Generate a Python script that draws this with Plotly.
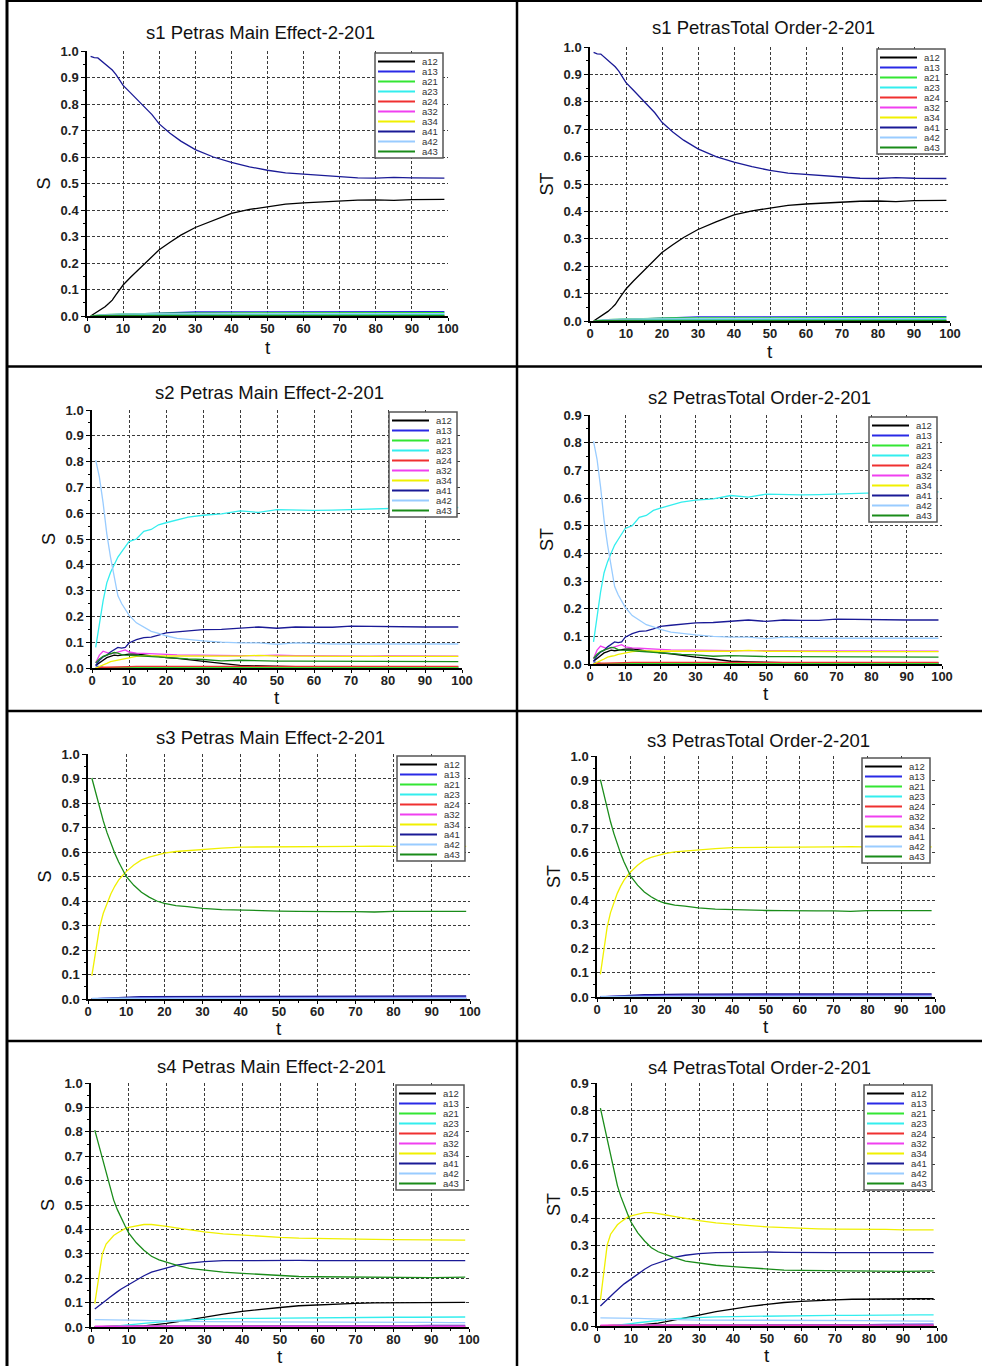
import plotly.graph_objects as go

W, H = 982, 1366

t = [1, 2, 3, 4, 5, 6, 7, 8, 9, 10, 12, 14, 16, 18, 20, 23, 26, 30, 35, 40,
     45, 50, 55, 60, 65, 70, 75, 80, 85, 90, 95, 99]

names = ["a12", "a13", "a21", "a23", "a24", "a32", "a34", "a41", "a42", "a43"]
colors = ["#000000", "#2a2ae6", "#33e633", "#33eeee", "#f03030", "#f040f0",
          "#f0f000", "#1a1a96", "#99ccff", "#1a8c1a"]

# ---------------- s1 ----------------
s1_a12 = [0.0, 0.008, 0.016, 0.025, 0.035, 0.047, 0.06, 0.08, 0.1, 0.117, 0.145, 0.172, 0.198, 0.224, 0.25, 0.278,
          0.305, 0.334, 0.362, 0.387, 0.402, 0.412, 0.422, 0.427, 0.431, 0.434, 0.437, 0.438, 0.436, 0.439, 0.439, 0.44]
s1_a13 = [0.0, 0.001, 0.002, 0.003, 0.003, 0.004, 0.005, 0.005, 0.006, 0.006, 0.007, 0.008, 0.009, 0.01, 0.01, 0.011,
          0.012, 0.015, 0.015, 0.015, 0.015, 0.015, 0.014, 0.014, 0.014, 0.015, 0.014, 0.014, 0.016, 0.016, 0.015, 0.016]
s1_a21 = [0.0, 0.002, 0.003, 0.004, 0.005, 0.006, 0.006, 0.007, 0.007, 0.008, 0.008, 0.009, 0.009, 0.01, 0.01, 0.011,
          0.011, 0.011, 0.012, 0.012, 0.012, 0.012, 0.012, 0.012, 0.012, 0.012, 0.012, 0.012, 0.012, 0.013, 0.013, 0.013]
s1_a23 = [0.0, 0.001, 0.002, 0.002, 0.003, 0.003, 0.003, 0.004, 0.004, 0.004, 0.004, 0.005, 0.005, 0.005, 0.005, 0.005,
          0.005, 0.006, 0.006, 0.006, 0.006, 0.006, 0.006, 0.006, 0.006, 0.006, 0.006, 0.006, 0.006, 0.006, 0.006, 0.006]
s1_a24 = [0.0, 0.001, 0.001, 0.001, 0.001, 0.001, 0.001, 0.001, 0.001, 0.001, 0.001, 0.001, 0.001, 0.001, 0.001, 0.001,
          0.001, 0.001, 0.001, 0.001, 0.001, 0.001, 0.001, 0.001, 0.001, 0.001, 0.001, 0.001, 0.001, 0.001, 0.001, 0.001]
s1_a32 = [0.0, 0.0, 0.001, 0.001, 0.001, 0.001, 0.001, 0.001, 0.001, 0.001, 0.001, 0.001, 0.001, 0.001, 0.001, 0.001,
          0.001, 0.001, 0.001, 0.001, 0.001, 0.001, 0.001, 0.001, 0.001, 0.001, 0.001, 0.001, 0.001, 0.001, 0.001, 0.001]
s1_a34 = [0.0, 0.0, 0.0, 0.0, 0.0, 0.0, 0.0, 0.0, 0.0, 0.0, 0.0, 0.0, 0.0, 0.0, 0.0, 0.0,
          0.0, 0.0, 0.0, 0.0, 0.0, 0.0, 0.0, 0.0, 0.0, 0.0, 0.0, 0.0, 0.0, 0.0, 0.0, 0.0]
s1_a41 = [0.98, 0.975, 0.974, 0.963, 0.952, 0.94, 0.928, 0.912, 0.89, 0.87, 0.843, 0.815, 0.787, 0.76, 0.725, 0.69,
          0.66, 0.628, 0.6, 0.58, 0.563, 0.55, 0.54, 0.535, 0.53, 0.525, 0.521, 0.52, 0.523, 0.521, 0.52, 0.52]
s1_a42 = [0.0, 0.002, 0.003, 0.004, 0.005, 0.006, 0.006, 0.007, 0.007, 0.007, 0.008, 0.008, 0.008, 0.008, 0.008, 0.009,
          0.009, 0.009, 0.009, 0.009, 0.009, 0.009, 0.009, 0.009, 0.009, 0.009, 0.009, 0.009, 0.009, 0.009, 0.009, 0.009]
s1_a43 = [0.0, 0.001, 0.001, 0.001, 0.002, 0.002, 0.002, 0.002, 0.002, 0.002, 0.002, 0.002, 0.002, 0.002, 0.002, 0.002,
          0.002, 0.002, 0.002, 0.002, 0.002, 0.002, 0.002, 0.002, 0.002, 0.002, 0.002, 0.002, 0.002, 0.002, 0.002, 0.002]

# ---------------- s2 ----------------
s2_a12 = [0.01, 0.02, 0.033, 0.04, 0.045, 0.05, 0.048, 0.05, 0.052, 0.054, 0.055, 0.05, 0.047, 0.045, 0.04, 0.037,
          0.033, 0.025, 0.018, 0.01, 0.008, 0.006, 0.005, 0.005, 0.005, 0.004, 0.004, 0.004, 0.004, 0.004, 0.004, 0.004]
s2_a13 = [0.008, 0.004, 0.002, 0.001, 0.001, 0.001, 0.001, 0.001, 0.001, 0.001, 0.001, 0.001, 0.001, 0.001, 0.001, 0.001,
          0.001, 0.001, 0.001, 0.001, 0.001, 0.001, 0.001, 0.001, 0.001, 0.001, 0.001, 0.001, 0.001, 0.001, 0.001, 0.001]
s2_a21 = [0.0, 0.001, 0.001, 0.001, 0.001, 0.001, 0.001, 0.001, 0.001, 0.001, 0.001, 0.001, 0.001, 0.001, 0.001, 0.001,
          0.001, 0.001, 0.001, 0.001, 0.001, 0.001, 0.001, 0.001, 0.001, 0.001, 0.001, 0.001, 0.001, 0.001, 0.001, 0.001]
s2_a23 = [0.08, 0.18, 0.26, 0.33, 0.37, 0.4, 0.43, 0.45, 0.47, 0.49, 0.5, 0.53, 0.537, 0.555, 0.563, 0.575,
          0.585, 0.592, 0.597, 0.609, 0.603, 0.614, 0.612, 0.611, 0.612, 0.614, 0.616, 0.619, 0.621, 0.622, 0.62, 0.622]
s2_a24 = [0.0, 0.002, 0.003, 0.003, 0.003, 0.004, 0.004, 0.005, 0.005, 0.005, 0.006, 0.006, 0.006, 0.005, 0.006, 0.006,
          0.005, 0.006, 0.006, 0.006, 0.006, 0.006, 0.006, 0.006, 0.006, 0.006, 0.005, 0.006, 0.006, 0.006, 0.006, 0.006]
s2_a32 = [0.02, 0.05, 0.065, 0.06, 0.055, 0.058, 0.062, 0.068, 0.07, 0.062, 0.058, 0.057, 0.055, 0.054, 0.053, 0.051,
          0.05, 0.05, 0.049, 0.048, 0.048, 0.05, 0.048, 0.047, 0.047, 0.046, 0.046, 0.047, 0.046, 0.046, 0.046, 0.046]
s2_a34 = [0.0, 0.005, 0.012, 0.018, 0.025, 0.028, 0.03, 0.035, 0.038, 0.04, 0.045, 0.047, 0.047, 0.046, 0.046, 0.046,
          0.047, 0.047, 0.047, 0.046, 0.049, 0.046, 0.046, 0.045, 0.045, 0.045, 0.045, 0.045, 0.045, 0.045, 0.045, 0.045]
s2_a41 = [0.01, 0.03, 0.043, 0.05, 0.062, 0.071, 0.08, 0.077, 0.08, 0.097, 0.11, 0.118, 0.12, 0.127, 0.136, 0.14,
          0.145, 0.149, 0.15, 0.155, 0.159, 0.154, 0.159, 0.158, 0.158, 0.162, 0.161, 0.159, 0.159, 0.159, 0.159, 0.159]
s2_a42 = [0.806, 0.74, 0.64, 0.52, 0.43, 0.353, 0.28, 0.25, 0.225, 0.205, 0.175, 0.158, 0.142, 0.134, 0.125, 0.115,
          0.11, 0.105, 0.1, 0.097, 0.097, 0.092, 0.097, 0.094, 0.093, 0.093, 0.093, 0.093, 0.093, 0.093, 0.093, 0.093]
s2_a43 = [0.02, 0.035, 0.045, 0.05, 0.055, 0.06, 0.058, 0.052, 0.05, 0.05, 0.048, 0.046, 0.044, 0.042, 0.04, 0.037,
          0.035, 0.033, 0.028, 0.03, 0.028, 0.027, 0.027, 0.027, 0.026, 0.026, 0.026, 0.026, 0.026, 0.025, 0.025, 0.025]

# ---------------- s3 ----------------
s3_a12 = [0.0, 0.0, 0.001, 0.001, 0.001, 0.001, 0.001, 0.001, 0.001, 0.001, 0.001, 0.001, 0.001, 0.001, 0.001, 0.001,
          0.001, 0.001, 0.001, 0.001, 0.001, 0.001, 0.001, 0.001, 0.001, 0.001, 0.001, 0.001, 0.001, 0.001, 0.001, 0.001]
s3_a13 = [0.0, 0.001, 0.001, 0.002, 0.003, 0.003, 0.004, 0.004, 0.005, 0.005, 0.006, 0.006, 0.007, 0.007, 0.008, 0.008,
          0.008, 0.008, 0.009, 0.009, 0.009, 0.009, 0.009, 0.009, 0.009, 0.009, 0.009, 0.009, 0.009, 0.009, 0.009, 0.009]
s3_a21 = [0.0, 0.0, 0.0, 0.001, 0.001, 0.001, 0.001, 0.001, 0.001, 0.001, 0.001, 0.001, 0.001, 0.001, 0.001, 0.001,
          0.001, 0.001, 0.001, 0.001, 0.001, 0.001, 0.001, 0.001, 0.001, 0.001, 0.001, 0.001, 0.001, 0.001, 0.001, 0.001]
s3_a23 = [0.0, 0.0, 0.0, 0.0, 0.001, 0.001, 0.001, 0.001, 0.001, 0.001, 0.001, 0.001, 0.001, 0.001, 0.001, 0.001,
          0.001, 0.001, 0.001, 0.001, 0.001, 0.001, 0.001, 0.001, 0.001, 0.001, 0.001, 0.001, 0.001, 0.001, 0.001, 0.001]
s3_a24 = [0.0, 0.0, 0.0, 0.0, 0.0, 0.0, 0.0, 0.0, 0.0, 0.0, 0.0, 0.0, 0.0, 0.0, 0.0, 0.0,
          0.0, 0.0, 0.0, 0.0, 0.0, 0.0, 0.0, 0.0, 0.0, 0.0, 0.0, 0.0, 0.0, 0.0, 0.0, 0.0]
s3_a32 = [0.001, 0.002, 0.002, 0.002, 0.002, 0.002, 0.002, 0.002, 0.002, 0.002, 0.002, 0.002, 0.002, 0.002, 0.002, 0.002,
          0.002, 0.002, 0.002, 0.002, 0.002, 0.002, 0.002, 0.002, 0.002, 0.002, 0.002, 0.002, 0.002, 0.002, 0.002, 0.002]
s3_a34 = [0.094, 0.2, 0.29, 0.35, 0.39, 0.43, 0.46, 0.485, 0.503, 0.52, 0.547, 0.568, 0.579, 0.588, 0.595, 0.602,
          0.606, 0.612, 0.616, 0.62, 0.62, 0.621, 0.623, 0.623, 0.621, 0.623, 0.624, 0.623, 0.623, 0.621, 0.62, 0.623]
s3_a41 = [0.0, 0.001, 0.002, 0.003, 0.004, 0.005, 0.006, 0.007, 0.008, 0.008, 0.009, 0.01, 0.01, 0.011, 0.011, 0.012,
          0.012, 0.012, 0.013, 0.013, 0.013, 0.013, 0.013, 0.013, 0.013, 0.013, 0.013, 0.013, 0.013, 0.013, 0.013, 0.013]
s3_a42 = [0.002, 0.003, 0.003, 0.003, 0.003, 0.003, 0.003, 0.003, 0.003, 0.003, 0.003, 0.003, 0.003, 0.003, 0.003, 0.003,
          0.003, 0.003, 0.003, 0.003, 0.003, 0.003, 0.003, 0.003, 0.003, 0.003, 0.003, 0.003, 0.003, 0.003, 0.003, 0.003]
s3_a43 = [0.902, 0.844, 0.78, 0.727, 0.678, 0.634, 0.595, 0.56, 0.529, 0.5, 0.464, 0.436, 0.416, 0.4, 0.39, 0.381,
          0.377, 0.37, 0.365, 0.362, 0.36, 0.359, 0.358, 0.356, 0.357, 0.357, 0.355, 0.358, 0.358, 0.358, 0.358, 0.358]

# ---------------- s4 ----------------
s4_a12 = [0.0, 0.0, 0.0, 0.0, 0.0, 0.0, 0.0, 0.001, 0.001, 0.002, 0.003, 0.005, 0.008, 0.011, 0.015, 0.022,
          0.03, 0.04, 0.053, 0.064, 0.073, 0.08, 0.087, 0.091, 0.095, 0.097, 0.099, 0.1, 0.1, 0.1, 0.101, 0.101]
s4_a13 = [0.0, 0.001, 0.001, 0.002, 0.002, 0.002, 0.003, 0.003, 0.003, 0.003, 0.003, 0.004, 0.004, 0.004, 0.004, 0.004,
          0.004, 0.004, 0.004, 0.004, 0.005, 0.005, 0.005, 0.005, 0.005, 0.005, 0.005, 0.005, 0.006, 0.007, 0.007, 0.007]
s4_a21 = [0.0, 0.001, 0.001, 0.001, 0.002, 0.002, 0.002, 0.002, 0.002, 0.002, 0.002, 0.002, 0.002, 0.002, 0.002, 0.002,
          0.002, 0.002, 0.002, 0.002, 0.002, 0.002, 0.002, 0.002, 0.002, 0.002, 0.002, 0.002, 0.002, 0.002, 0.002, 0.002]
s4_a23 = [0.0, 0.0, 0.0, 0.001, 0.002, 0.003, 0.004, 0.005, 0.007, 0.009, 0.012, 0.015, 0.018, 0.021, 0.024, 0.027,
          0.029, 0.032, 0.034, 0.035, 0.036, 0.037, 0.038, 0.038, 0.039, 0.039, 0.039, 0.04, 0.04, 0.041, 0.041, 0.041]
s4_a24 = [0.001, 0.002, 0.002, 0.002, 0.002, 0.002, 0.002, 0.002, 0.002, 0.002, 0.002, 0.002, 0.002, 0.002, 0.002, 0.002,
          0.002, 0.002, 0.002, 0.002, 0.002, 0.002, 0.002, 0.002, 0.002, 0.002, 0.002, 0.002, 0.002, 0.002, 0.002, 0.002]
s4_a32 = [0.003, 0.003, 0.003, 0.003, 0.003, 0.003, 0.003, 0.003, 0.003, 0.003, 0.003, 0.003, 0.003, 0.003, 0.003, 0.003,
          0.003, 0.003, 0.003, 0.003, 0.003, 0.003, 0.003, 0.003, 0.003, 0.003, 0.003, 0.003, 0.003, 0.003, 0.003, 0.003]
s4_a34 = [0.096, 0.2, 0.3, 0.34, 0.36, 0.375, 0.385, 0.395, 0.403, 0.408, 0.415, 0.42, 0.42, 0.417, 0.412, 0.405,
          0.398, 0.39, 0.382, 0.376, 0.372, 0.367, 0.364, 0.362, 0.36, 0.359, 0.359, 0.358, 0.358, 0.356, 0.355, 0.356]
s4_a41 = [0.074, 0.085, 0.098, 0.11, 0.122, 0.135, 0.145, 0.156, 0.165, 0.175, 0.193, 0.21, 0.225, 0.234, 0.243, 0.255,
          0.262, 0.268, 0.272, 0.273, 0.273, 0.274, 0.273, 0.272, 0.272, 0.272, 0.272, 0.272, 0.272, 0.273, 0.272, 0.272]
s4_a42 = [0.03, 0.03, 0.03, 0.03, 0.03, 0.03, 0.029, 0.029, 0.029, 0.028, 0.028, 0.027, 0.026, 0.026, 0.025, 0.024,
          0.023, 0.022, 0.022, 0.022, 0.021, 0.021, 0.021, 0.021, 0.02, 0.02, 0.02, 0.02, 0.019, 0.019, 0.018, 0.018]
s4_a43 = [0.807, 0.75, 0.69, 0.63, 0.58, 0.52, 0.48, 0.445, 0.415, 0.385, 0.345, 0.315, 0.29, 0.275, 0.265, 0.252,
          0.24, 0.233, 0.225, 0.22, 0.215, 0.21, 0.207, 0.206, 0.205, 0.204, 0.203, 0.203, 0.203, 0.202, 0.203, 0.204]

s1 = [s1_a12, s1_a13, s1_a21, s1_a23, s1_a24, s1_a32, s1_a34, s1_a41, s1_a42, s1_a43]
s2 = [s2_a12, s2_a13, s2_a21, s2_a23, s2_a24, s2_a32, s2_a34, s2_a41, s2_a42, s2_a43]
s3 = [s3_a12, s3_a13, s3_a21, s3_a23, s3_a24, s3_a32, s3_a34, s3_a41, s3_a42, s3_a43]
s4 = [s4_a12, s4_a13, s4_a21, s4_a23, s4_a24, s4_a32, s4_a34, s4_a41, s4_a42, s4_a43]

titles = ["s1 Petras Main Effect-2-201", "s1 PetrasTotal Order-2-201",
          "s2 Petras Main Effect-2-201", "s2 PetrasTotal Order-2-201",
          "s3 Petras Main Effect-2-201", "s3 PetrasTotal Order-2-201",
          "s4 Petras Main Effect-2-201", "s4 PetrasTotal Order-2-201"]
ylabels = ["S", "ST", "S", "ST", "S", "ST", "S", "ST"]
xlabel = "t"
ymax = [1.0, 1.0, 1.0, 0.9, 1.0, 1.0, 1.0, 0.9]
series = [s1, s1, s2, s2, s3, s3, s4, s4]

# plot areas in pixels: (left, right, top, bottom)
boxes = [(87, 448, 51, 316), (590, 950, 47, 321),
         (92, 462, 410, 668), (590, 942, 415, 664),
         (88, 470, 754, 999), (597, 935, 756, 997),
         (91, 469, 1083, 1327), (597, 937, 1083, 1326)]
title_pos = [(260, 32), (763, 28), (269, 392), (759, 397),
             (270, 737), (758, 740), (271, 1066), (759, 1067)]
xtitle_y = [347, 351, 697, 693, 1028, 1026, 1356, 1355]

FONT = "Liberation Sans, Arial, sans-serif"

fig = go.Figure()
layout = dict(width=W, height=H, margin=dict(l=0, r=0, t=0, b=0),
              paper_bgcolor="white", plot_bgcolor="white", showlegend=False,
              font=dict(family=FONT, color="#111"), template="none")
shapes = []
annotations = []

def px(x):
    return x / W

def py(y):
    return 1 - y / H

for i in range(8):
    n = i + 1
    xk = "xaxis" if n == 1 else f"xaxis{n}"
    yk = "yaxis" if n == 1 else f"yaxis{n}"
    xr = "x" if n == 1 else f"x{n}"
    yr = "y" if n == 1 else f"y{n}"
    l, r, tp, b = boxes[i]
    layout[xk] = dict(domain=[px(l), px(r)], anchor=yr, range=[0, 100], tick0=0, dtick=10,
                      showline=True, linecolor="black", linewidth=1.5, ticks="outside", ticklen=3,
                      tickcolor="black", showgrid=True, gridcolor="#3a3a3a", griddash="3px,2px", gridwidth=1,
                      zeroline=False, tickfont=dict(size=13, family=FONT, color="#222", weight="bold"),
                      ticklabelstandoff=-3,
                      minor=dict(dtick=5, ticks="outside", ticklen=2, tickcolor="black", showgrid=False),
                      fixedrange=True)
    layout[yk] = dict(domain=[py(b), py(tp)], anchor=xr, range=[0, ymax[i]], tick0=0, dtick=0.1,
                      tickformat=".1f", showline=True, linecolor="black", linewidth=1.5, ticks="outside",
                      ticklen=4, tickcolor="black", showgrid=True, gridcolor="#3a3a3a", griddash="3px,2px",
                      gridwidth=1, zeroline=False,
                      tickfont=dict(size=13, family=FONT, color="#222", weight="bold"),
                      minor=dict(dtick=0.05, ticks="outside", ticklen=2, tickcolor="black", showgrid=False),
                      title=dict(text=ylabels[i], font=dict(size=18, family=FONT, color="#111"), standoff=5),
                      fixedrange=True)
    for k in range(10):
        fig.add_trace(go.Scatter(x=t, y=series[i][k], mode="lines", name=names[k],
                                 line=dict(color=colors[k], width=1.3), xaxis=xr, yaxis=yr,
                                 showlegend=False, hoverinfo="name+x+y"))
    # title
    tx, ty = title_pos[i]
    annotations.append(dict(text=titles[i], x=px(tx), y=py(ty), xref="paper", yref="paper",
                            showarrow=False, xanchor="center", yanchor="middle",
                            font=dict(size=18.5, family=FONT, color="#111")))
    # x-axis title
    annotations.append(dict(text=xlabel, x=px((l + r) / 2), y=py(xtitle_y[i]), xref="paper", yref="paper",
                            showarrow=False, xanchor="center", yanchor="middle",
                            font=dict(size=19, family=FONT, color="#111")))
    # legend box (drawn inside plot area, top-right)
    bw, bh = 68, 105
    bx1 = r - 5
    bx0 = bx1 - bw
    by0 = tp + 2
    by1 = by0 + bh
    shapes.append(dict(type="rect", xref="paper", yref="paper", x0=px(bx0), x1=px(bx1),
                       y0=py(by1), y1=py(by0), fillcolor="white",
                       line=dict(color="#555", width=1.5), layer="above"))
    for k in range(10):
        yy = by0 + 8.5 + k * 10.0
        shapes.append(dict(type="line", xref="paper", yref="paper", x0=px(bx0 + 3), x1=px(bx0 + 40),
                           y0=py(yy), y1=py(yy), line=dict(color=colors[k], width=2), layer="above"))
        annotations.append(dict(text=names[k], x=px(bx1 - 3), y=py(yy), xref="paper", yref="paper",
                                showarrow=False, xanchor="right", yanchor="middle",
                                font=dict(size=9.5, family=FONT, color="#333")))

# table borders
def hline(y, x0, x1, w):
    shapes.append(dict(type="line", xref="paper", yref="paper", x0=px(x0), x1=px(x1),
                       y0=py(y), y1=py(y), line=dict(color="black", width=w), layer="above"))

def vline(x, y0, y1, w):
    shapes.append(dict(type="line", xref="paper", yref="paper", x0=px(x), x1=px(x),
                       y0=py(y0), y1=py(y1), line=dict(color="black", width=w), layer="above"))

hline(1, 7, 982, 2)
hline(366.5, 7, 982, 2.5)
hline(711, 7, 982, 2.5)
hline(1041, 7, 982, 2.5)
vline(7, 0, H, 3)
vline(517, 0, H, 2.5)

layout["shapes"] = shapes
layout["annotations"] = annotations
fig.update_layout(**layout)

fig.write_html("out.html", config={"displayModeBar": False},
               post_script="document.body.style.margin='0';document.body.style.overflow='hidden';")
